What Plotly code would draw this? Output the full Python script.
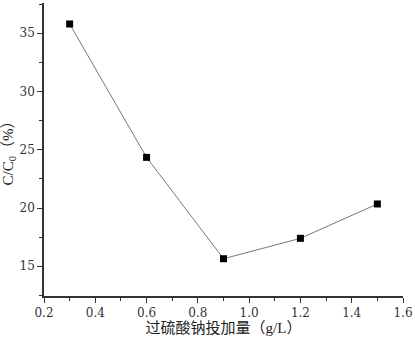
import plotly.graph_objects as go

dosage = [0.3, 0.6, 0.9, 1.2, 1.5]
ratio = [35.8, 24.35, 15.65, 17.4, 20.35]
x_title = "过硫酸钠投加量（g/L）"
y_title = "C/C<sub>0</sub>（%）"

font_family = "Liberation Serif, Noto Sans CJK SC, serif"
tick_family = "DejaVu Serif, Liberation Serif, serif"

fig = go.Figure()
fig.add_trace(go.Scatter(
    x=dosage, y=ratio, mode="lines+markers",
    line=dict(color="#777777", width=1),
    marker=dict(symbol="square", size=7, color="black"),
    showlegend=False,
))

axis_common = dict(
    showline=True, linecolor="#333333", linewidth=1.5,
    ticks="outside", ticklen=5, tickcolor="#333333", tickwidth=1,
    showgrid=False, zeroline=False, mirror=False, automargin=False,
    tickfont=dict(family=tick_family, size=12, color="#333333"),
)

fig.update_xaxes(range=[0.2, 1.6], tick0=0.2, dtick=0.2, tickformat=".1f",
                 title=dict(text=x_title, font=dict(family=font_family, size=15, color="#222222"), standoff=3),
                 minor=dict(ticks="outside", ticklen=3, tickcolor="#333333", dtick=0.1),
                 **axis_common)
fig.update_yaxes(range=[12.45, 37.6], tick0=15, dtick=5,
                 title=dict(text=y_title, font=dict(family=font_family, size=15, color="#222222"), standoff=6),
                 minor=dict(ticks="outside", ticklen=3, tickcolor="#333333", dtick=2.5),
                 **axis_common)

fig.update_layout(
    width=415, height=340,
    margin=dict(l=44, r=12, t=3, b=44),
    plot_bgcolor="white", paper_bgcolor="white",
    font=dict(family=font_family),
)
fig.write_html("out.html", config={"displayModeBar": False},
               post_script="document.body.style.margin='0px';")
